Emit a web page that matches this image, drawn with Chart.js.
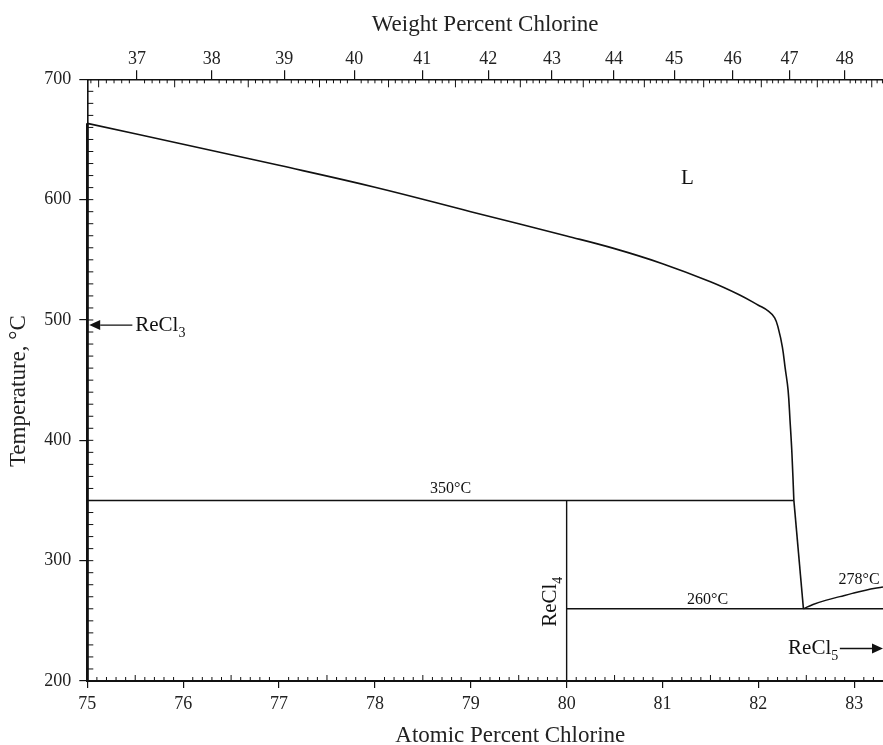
<!DOCTYPE html>
<html>
<head>
<meta charset="utf-8">
<script src="https://cdn.jsdelivr.net/npm/chart.js@4.4.0/dist/chart.umd.min.js"></script>
<style>
  html, body { margin: 0; padding: 0; background: #fff; }
  #wrap { width: 883px; height: 745px; }
</style>
</head>
<body>
<div id="wrap"><canvas id="phaseChart" width="883" height="745"></canvas></div>
<script>
/* Re-Cl phase diagram (ReCl3 - ReCl5 part) */

// AXES
const atTicks = [75, 76, 77, 78, 79, 80, 81, 82, 83];
const wtTicks = [37, 38, 39, 40, 41, 42, 43, 44, 45, 46, 47, 48];
const tempTicks = [200, 300, 400, 500, 600, 700];

// LIQUIDUS (at.% Cl, °C)
const liquidusX = [75, 76, 77, 78, 79, 80, 80.5, 81, 81.5, 81.8, 82.0, 82.1, 82.17, 82.21, 82.25, 82.28, 82.31, 82.33, 82.35, 82.37];
const liquidusT = [663.4, 646, 628.5, 610.3, 590, 569.8, 559.3, 546.8, 531.8, 521, 512.3, 507.6, 501.8, 492.4, 477.7, 459.8, 441.7, 416.8, 389.1, 350.3];
// liquidus below the peritectic, down to the eutectic
const lowLiqX = [82.37, 82.47];
const lowLiqT = [350.3, 260];

// PERITECTIC 350 / EUTECTIC 260 / ReCl5 MELTING 278
const line350X = [75, 82.37];
const line350T = [350, 350];
const recl4X = [80, 80];
const recl4T = [200, 350];
const line260X = [80, 83.3];
const line260T = [260, 260];
const recl5LiqX = [82.47, 82.57, 82.71, 82.85, 82.98, 83.12, 83.3];
const recl5LiqT = [260, 263.6, 267.2, 270.1, 272.8, 275.5, 278.2];
const recl3X = [75, 75];
const recl3T = [200, 663.4];

// LABELS
const labelText = ['L', '350°C', '260°C', '278°C'];
const labelX = [81.26, 78.79, 81.47, 83.05];
const labelT = [613, 355.9, 264.4, 281];

const CL = 35.453, RE = 186.207;
const wtToAt = w => {
    const cl = w / CL, re = (100 - w) / RE;
    return 100 * cl / (cl + re);
};

const SERIF = '"Liberation Serif", "DejaVu Serif", serif';
const toPts = (xs, ts) => xs.map((v, i) => ({ x: v, y: ts[i] }));

function lineSet(xs, ts, width, tension) {
    return {
        data: toPts(xs, ts),
        showLine: true,
        borderColor: '#111',
        borderWidth: width,
        pointRadius: 0,
        tension: tension || 0,
        xAxisID: 'x',
        yAxisID: 'y',
        clip: 4
    };
}

function formula(ctx, base, sub, x, y, size) {
    ctx.font = `${size}px ${SERIF}`;
    ctx.textAlign = 'left';
    ctx.textBaseline = 'alphabetic';
    ctx.fillText(base, x, y);
    const w = ctx.measureText(base).width;
    ctx.font = `${Math.round(size * 0.68)}px ${SERIF}`;
    ctx.fillText(sub, x + w, y + size * 0.3);
}

function arrow(ctx, x1, y1, x2, y2) {
    const ang = Math.atan2(y2 - y1, x2 - x1);
    const len = 11, half = 5;
    const bx = x2 - len * Math.cos(ang), by = y2 - len * Math.sin(ang);
    ctx.beginPath();
    ctx.moveTo(x1, y1);
    ctx.lineTo(bx, by);
    ctx.lineWidth = 1.3;
    ctx.stroke();
    ctx.beginPath();
    ctx.moveTo(x2, y2);
    ctx.lineTo(bx - half * Math.sin(ang), by + half * Math.cos(ang));
    ctx.lineTo(bx + half * Math.sin(ang), by - half * Math.cos(ang));
    ctx.closePath();
    ctx.fill();
}

// minor ticks, texts, arrows, axis titles
const phasePlugin = {
    id: 'phaseExtras',
    afterDraw(chart) {
        const { ctx, chartArea: ca, scales } = chart;
        const x = scales.x, y = scales.y;
        ctx.save();
        ctx.strokeStyle = '#111';
        ctx.fillStyle = '#111';
        ctx.lineWidth = 1;

        ctx.beginPath();
        // bottom minor ticks (0.1 at.%)
        for (let i = 1; i < 83; i++) {
            if (i % 10 === 0) continue;
            const px = x.getPixelForValue(75 + i / 10);
            const len = i % 5 === 0 ? 6 : 4;
            ctx.moveTo(px, ca.bottom);
            ctx.lineTo(px, ca.bottom - len);
        }
        // top minor ticks (0.1 wt.%)
        for (let i = 364; i <= 487; i++) {
            if (i % 10 === 0) continue;
            const px = x.getPixelForValue(wtToAt(i / 10));
            if (px <= ca.left + 1 || px > ca.right) continue;
            const len = i % 5 === 0 ? 8 : 4;
            ctx.moveTo(px, ca.top);
            ctx.lineTo(px, ca.top + len);
        }
        // left minor ticks (10 °C)
        for (let t = 210; t < 700; t += 10) {
            const py = y.getPixelForValue(t);
            ctx.moveTo(ca.left, py);
            ctx.lineTo(ca.left + 6, py);
        }
        ctx.stroke();

        // region / line labels
        labelText.forEach((txt, i) => {
            ctx.font = (txt === 'L' ? '21px ' : '16px ') + SERIF;
            ctx.textAlign = 'center';
            ctx.textBaseline = 'alphabetic';
            ctx.fillText(txt, x.getPixelForValue(labelX[i]), y.getPixelForValue(labelT[i]));
        });

        // ReCl3 arrow
        arrow(ctx, x.getPixelForValue(75.47), y.getPixelForValue(495.8), x.getPixelForValue(75.02), y.getPixelForValue(495.8));
        formula(ctx, 'ReCl', '3', x.getPixelForValue(75.5), y.getPixelForValue(491), 21);

        // ReCl5 arrow
        formula(ctx, 'ReCl', '5', x.getPixelForValue(82.31), y.getPixelForValue(222.3), 21);
        arrow(ctx, x.getPixelForValue(82.85), y.getPixelForValue(227), ca.right, y.getPixelForValue(227));

        // ReCl4 (vertical)
        ctx.save();
        ctx.translate(x.getPixelForValue(79.885), y.getPixelForValue(245));
        ctx.rotate(-Math.PI / 2);
        formula(ctx, 'ReCl', '4', 0, 0, 21);
        ctx.restore();

        // axis titles
        ctx.fillStyle = '#222';
        ctx.font = '23px ' + SERIF;
        ctx.textAlign = 'center';
        ctx.textBaseline = 'alphabetic';
        ctx.fillText('Weight Percent Chlorine', (ca.left + ca.right) / 2, ca.top - 48.6);
        ctx.fillText('Atomic Percent Chlorine', ca.left + 423, ca.bottom + 60.5);
        ctx.save();
        ctx.translate(25, (ca.top + ca.bottom) / 2 + 11);
        ctx.rotate(-Math.PI / 2);
        ctx.fillText('Temperature, °C', 0, 0);
        ctx.restore();

        ctx.restore();
    }
};

document.addEventListener('DOMContentLoaded', () => {
    const canvas = document.getElementById('phaseChart');
    const tickFont = { family: SERIF, size: 18 };

    new Chart(canvas, {
        type: 'scatter',
        data: {
            datasets: [
                lineSet(liquidusX, liquidusT, 1.6, 0.4),
                lineSet(lowLiqX, lowLiqT, 1.6),
                lineSet(line350X, line350T, 1.4),
                lineSet(recl4X, recl4T, 1.4),
                lineSet(line260X, line260T, 1.4),
                lineSet(recl5LiqX, recl5LiqT, 1.5, 0.4),
                lineSet(recl3X, recl3T, 2.6)
            ]
        },
        options: {
            responsive: false,
            animation: false,
            layout: { padding: 0 },
            plugins: { legend: { display: false }, tooltip: { enabled: false } },
            scales: {
                x: {
                    type: 'linear', position: 'bottom', min: 75, max: 83.3,
                    afterBuildTicks: s => { s.ticks = atTicks.map(v => ({ value: v })); },
                    afterFit: s => { s.height = 64; },
                    ticks: { font: tickFont, color: '#222', padding: 5, maxRotation: 0, autoSkip: false },
                    grid: { drawOnChartArea: false, tickLength: 7, color: '#111', lineWidth: 1.2 },
                    border: { color: '#111', width: 2 }
                },
                xTop: {
                    type: 'linear', position: 'top', min: 75, max: 83.3,
                    afterBuildTicks: s => { s.ticks = wtTicks.map(w => ({ value: wtToAt(w) })); },
                    afterFit: s => { s.height = 79.3; },
                    ticks: {
                        font: tickFont, color: '#222', padding: 0, maxRotation: 0, autoSkip: false,
                        callback: (v, i) => wtTicks[i]
                    },
                    grid: { drawOnChartArea: false, tickLength: 9, color: '#111', lineWidth: 1.2 },
                    border: { color: '#111', width: 1.6 }
                },
                y: {
                    type: 'linear', position: 'left', min: 200, max: 700,
                    afterBuildTicks: s => { s.ticks = tempTicks.map(v => ({ value: v })); },
                    afterFit: s => { s.width = 87.3; },
                    ticks: { font: tickFont, color: '#222', padding: 8 },
                    grid: { drawOnChartArea: false, tickLength: 8, color: '#111', lineWidth: 1.2 },
                    border: { color: '#111', width: 1.6 }
                }
            }
        },
        plugins: [phasePlugin]
    });
});
</script>
</body>
</html>
